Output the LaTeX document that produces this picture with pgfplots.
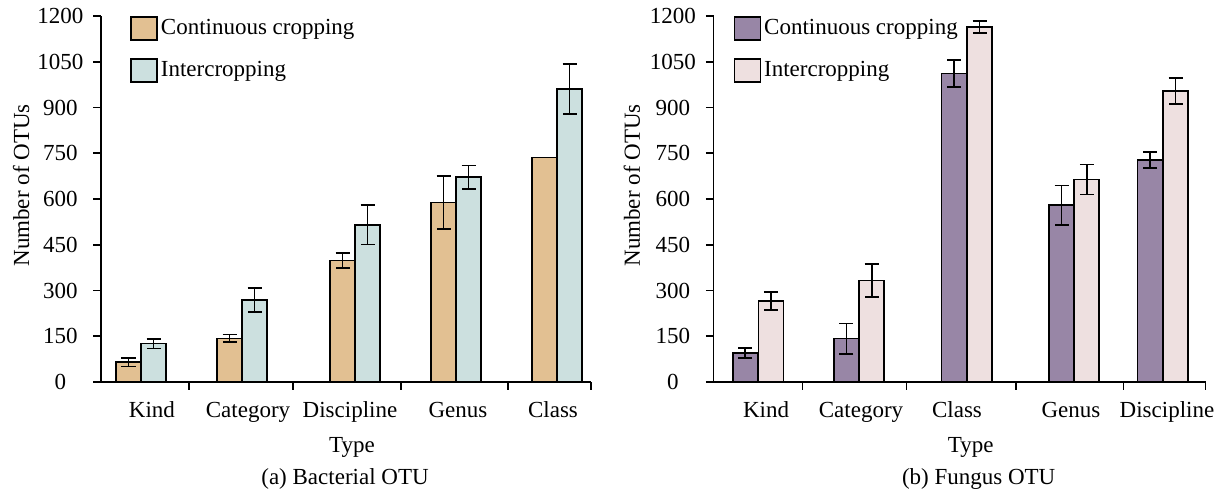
\documentclass[border=0pt]{standalone}
\usepackage{pgfplots}
\usepackage{pgfplotstable}
\pgfplotsset{compat=1.18}
\usepackage{fontspec}
\setmainfont{Liberation Serif}

\definecolor{contA}{HTML}{E2C092}
\definecolor{interA}{HTML}{CCE0DF}
\definecolor{contB}{HTML}{9886A6}
\definecolor{interB}{HTML}{EEE0E0}

% x = bar centre along the axis, y = number of OTUs, e = error
\pgfplotstableread{
x     y    e
27.5  65   14
128.5 143  13
241.5 398  24
342.5 588  87
443.5 736  0
}\bacCont
\pgfplotstableread{
x     y    e
52.5  126  16
153.5 268  39
266.5 515  64
367.5 672  38
468.5 960  82
}\bacInter
\pgfplotstableread{
x      y     e
31.7   95    16
132.9  142   50
240.5  1012  45
348    580   64
436.5  728   27
}\funCont
\pgfplotstableread{
x      y     e
57.3   266   30
158.2  333   55
266    1164  19
373.25 664   49
462    955   43
}\funInter

\pgfplotsset{
  panel/.style={
    scale only axis, height=183pt,
    axis lines=left, axis line style={-, line width=0.8pt},
    ymin=0, ymax=1200, ytick={0,150,...,1200},
    xmin=0,
    xtick align=inside, ytick align=outside, major tick length=3.8pt,
    tick style={black, line width=0.8pt},
    /pgf/number format/assume math mode=true,
    /pgf/number format/1000 sep={},
    yticklabel style={anchor=center, xshift=-16.5pt, font=\fontsize{11.5}{13}\selectfont},
    xtick style={draw=none},
    xticklabel style={anchor=base, yshift=-14pt, font=\fontsize{11.5}{13}\selectfont},
    extra x tick labels={},
    extra x tick style={xtick style={draw=black, line width=0.8pt}},
    ylabel={Number of OTUs},
    ylabel style={anchor=center, font=\fontsize{11.5}{13}\selectfont},
    xlabel={Type},
    xlabel style={anchor=center, font=\fontsize{11.5}{13}\selectfont},
    ybar, bar width=25, bar shift=0pt,
    every axis plot/.append style={draw=black, line width=0.8pt},
    error bars/y dir=both, error bars/y explicit,
    error bars/error bar style={line width=0.9pt, black},
    error bars/error mark options={rotate=90, mark size=3.5pt, line width=0.9pt, black},
    legend image code/.code={\draw[#1, line width=0.8pt] (0pt,-5.75pt) rectangle (13pt,5.75pt);},
    legend style={draw=none, fill=none, inner sep=0pt, row sep=8.5pt,
      font=\fontsize{11.5}{13}\selectfont, anchor=north west,
      nodes={inner sep=1.5pt}},
    legend cell align=left,
    clip=false,
  }
}

\begin{document}
\begin{tikzpicture}
\path[use as bounding box] (0,0) rectangle (613pt,248pt);

% (a) bacterial OTU
\begin{axis}[panel, at={(50.5pt,57pt)}, anchor=south west,
  width=245pt, xmax=490,
  xtick={51,147,249,357,452},
  xticklabels={Kind,Category,Discipline,Genus,Class},
  extra x ticks={88,192,300,407,490},
  ylabel style={at={(axis description cs:-0.163,0.537)}},
  xlabel style={at={(axis description cs:0.512,0)}, yshift=-32.5pt},
  legend style={at={(axis description cs:0.059,1)}},
]
\addplot[fill=contA] table[x=x, y=y, y error=e] {\bacCont};
\addlegendentry{Continuous cropping}
\addplot[fill=interA] table[x=x, y=y, y error=e] {\bacInter};
\addlegendentry{Intercropping}
\node[font=\fontsize{11.5}{13}\selectfont] at (axis description cs:0.498,0) [yshift=-48.5pt] {(a) Bacterial OTU};
\end{axis}

% (b) fungus OTU
\begin{axis}[panel, at={(356.75pt,57pt)}, anchor=south west,
  width=246pt, xmax=492,
  xtick={52.5,147.5,243.5,357.5,453.5},
  xticklabels={Kind,Category,Class,Genus,Discipline},
  extra x ticks={89,193,302.5,410,492},
  ylabel style={at={(axis description cs:-0.166,0.537)}},
  xlabel style={at={(axis description cs:0.523,0)}, yshift=-32.5pt},
  legend style={at={(axis description cs:0.04,1)}},
]
\addplot[fill=contB] table[x=x, y=y, y error=e] {\funCont};
\addlegendentry{Continuous cropping}
\addplot[fill=interB] table[x=x, y=y, y error=e] {\funInter};
\addlegendentry{Intercropping}
\node[font=\fontsize{11.5}{13}\selectfont] at (axis description cs:0.539,0) [yshift=-48.5pt] {(b) Fungus OTU};
\end{axis}
\end{tikzpicture}
\end{document}
